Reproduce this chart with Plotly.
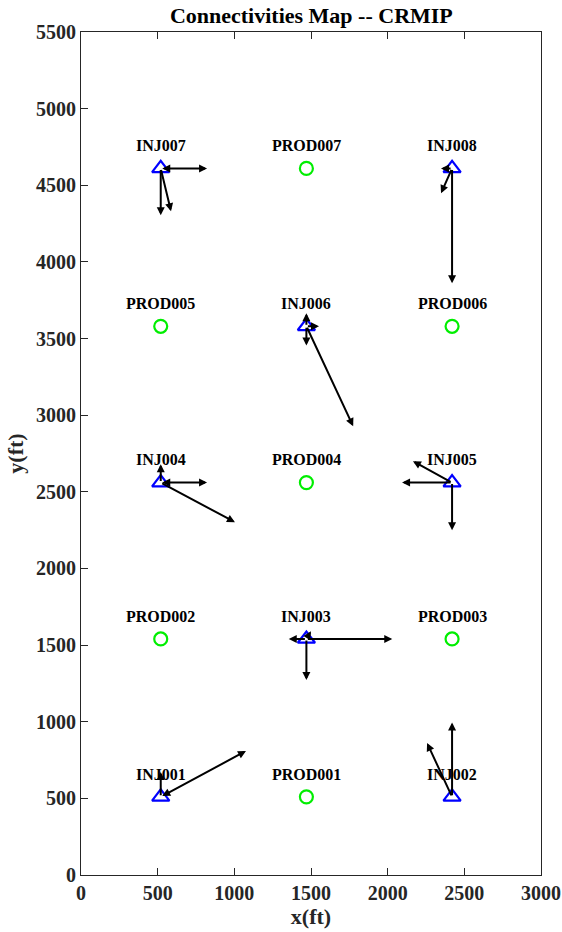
import plotly.graph_objects as go

# Well data
inj_names = ["INJ001", "INJ002", "INJ003", "INJ004", "INJ005", "INJ006", "INJ007", "INJ008"]
inj_x = [520, 2420, 1470, 520, 2420, 1470, 520, 2420]
inj_y = [510, 510, 1540, 2560, 2560, 3580, 4610, 4610]

prod_names = ["PROD001", "PROD002", "PROD003", "PROD004", "PROD005", "PROD006", "PROD007"]
prod_x = [1470, 520, 2420, 1470, 520, 2420, 1470]
prod_y = [510, 1540, 1540, 2560, 3580, 3580, 4610]

# Connectivity arrows: source injector and tip point (ft)
arrow_src = ["INJ001", "INJ001",
             "INJ002", "INJ002",
             "INJ003", "INJ003", "INJ003", "INJ003",
             "INJ004", "INJ004", "INJ004",
             "INJ005", "INJ005", "INJ005",
             "INJ006", "INJ006", "INJ006", "INJ006",
             "INJ007", "INJ007", "INJ007",
             "INJ008", "INJ008", "INJ008"]
arrow_tip_x = [1076, 520,
               2420, 2257,
               2030, 1355, 1470, 1500,
               822, 1004, 520,
               2094, 2165, 2420,
               1775, 1470, 1470, 1552,
               822, 520, 587,
               2420, 2348, 2348]
arrow_tip_y = [809, 672,
               995, 861,
               1540, 1540, 1272, 1590,
               2560, 2302, 2680,
               2560, 2700, 2250,
               2928, 3665, 3455, 3580,
               4610, 4305, 4330,
               3861, 4448, 4610]
arrow_both = [True, False,
              False, False,
              False, False, False, False,
              True, False, False,
              False, False, False,
              False, False, False, False,
              True, False, False,
              False, False, False]

FONT = "Liberation Serif"
label_offset = 148

fig = go.Figure()

fig.add_trace(go.Scatter(
    x=prod_x, y=prod_y, mode="markers",
    marker=dict(symbol="circle-open", size=13, color="#00ee00", line=dict(width=2.2, color="#00ee00")),
    showlegend=False, hoverinfo="text", text=prod_names))
fig.add_trace(go.Scatter(
    x=inj_x, y=inj_y, mode="markers",
    marker=dict(symbol="triangle-up-open", size=15, color="#0000ff", line=dict(width=2.2, color="#0000ff")),
    showlegend=False, hoverinfo="text", text=inj_names))

annotations = []
src_lookup = {n: (x, y) for n, x, y in zip(inj_names, inj_x, inj_y)}
for s, tx, ty, both in zip(arrow_src, arrow_tip_x, arrow_tip_y, arrow_both):
    sx, sy = src_lookup[s]
    annotations.append(dict(
        x=tx, y=ty, ax=sx, ay=sy, xref="x", yref="y", axref="x", ayref="y",
        showarrow=True, arrowhead=2, arrowsize=0.8, arrowwidth=2, arrowcolor="black",
        arrowside="end+start" if both else "end", startarrowhead=2, startarrowsize=0.8,
        standoff=0, startstandoff=0, text=""))

for n, x, y in list(zip(inj_names, inj_x, inj_y)) + list(zip(prod_names, prod_x, prod_y)):
    annotations.append(dict(
        x=x, y=y + label_offset, xref="x", yref="y", text="<b>" + n + "</b>", showarrow=False,
        font=dict(family=FONT, size=16, color="black"), yanchor="middle"))

fig.update_layout(
    width=562, height=932,
    margin=dict(l=81, r=21, t=32, b=57),
    paper_bgcolor="white", plot_bgcolor="white",
    title=dict(text="<b>Connectivities Map -- CRMIP</b>", x=0.554, xanchor="center",
               y=0.984, yanchor="middle", font=dict(family=FONT, size=22, color="black")),
    annotations=annotations,
    xaxis=dict(range=[0, 3000], dtick=500, tick0=0, showgrid=False, zeroline=False,
               automargin=False,
               showline=True, linecolor="#262626", linewidth=1, mirror="ticks",
               ticks="inside", ticklen=7, tickcolor="#262626",
               tickfont=dict(family=FONT, size=20, color="#262626", weight="bold"),
               title=dict(text="<b>x(ft)</b>", font=dict(family=FONT, size=22, color="#262626"), standoff=2)),
    yaxis=dict(range=[0, 5500], dtick=500, tick0=0, showgrid=False, zeroline=False,
               automargin=False,
               showline=True, linecolor="#262626", linewidth=1, mirror=True,
               ticks="inside", ticklen=7, tickcolor="#262626",
               tickfont=dict(family=FONT, size=20, color="#262626", weight="bold"),
               title=dict(text="<b>y(ft)</b>", font=dict(family=FONT, size=22, color="#262626"), standoff=6)),
)

fig.write_html("out.html")
